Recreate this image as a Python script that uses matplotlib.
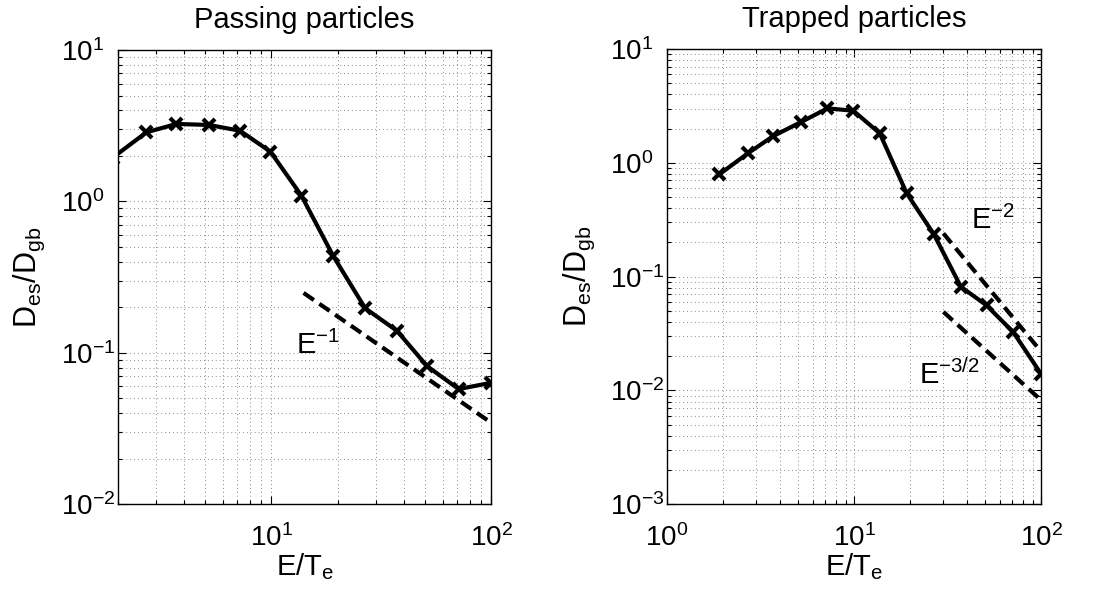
import matplotlib
matplotlib.use("Agg")
import matplotlib.pyplot as plt
from matplotlib.ticker import LogLocator, NullFormatter

plt.rcParams['font.family'] = ['Liberation Sans', 'DejaVu Sans']
plt.rcParams['mathtext.fontset'] = 'custom'
plt.rcParams['mathtext.rm'] = 'Liberation Sans'
plt.rcParams['mathtext.it'] = 'Liberation Sans'
plt.rcParams['mathtext.default'] = 'regular'

# ---- data ----
energy = [1.9, 2.7, 3.7, 5.2, 7.2, 9.9, 13.7, 19.1, 26.7, 37.2, 51, 71, 100]
passing = [1.95, 2.86, 3.25, 3.20, 2.93, 2.13, 1.09, 0.436, 0.197, 0.140, 0.0818, 0.0577, 0.0635]
trapped = [0.79, 1.21, 1.72, 2.28, 3.01, 2.87, 1.82, 0.54, 0.235, 0.0815, 0.056, 0.0324, 0.0139]

ref_pass_x = [14, 100]
ref_pass_y = [0.249, 0.0345]
ref_trap2_x = [30, 100]
ref_trap2_y = [0.24, 0.0219]
ref_trap15_x = [30, 100]
ref_trap15_y = [0.049, 0.0082]

fig = plt.figure(figsize=(11.2, 5.92), dpi=100)
ax1 = fig.add_axes([0.1051, 0.1481, 0.3336, 0.7674])
ax2 = fig.add_axes([0.5955, 0.1481, 0.3342, 0.7691])

def style(ax, xlim, ylim):
    ax.set_xscale('log')
    ax.set_yscale('log')
    ax.set_xlim(*xlim)
    ax.set_ylim(*ylim)
    ax.xaxis.set_minor_locator(LogLocator(base=10, subs=range(2, 10), numticks=20))
    ax.yaxis.set_minor_locator(LogLocator(base=10, subs=range(2, 10), numticks=20))
    ax.xaxis.set_minor_formatter(NullFormatter())
    ax.yaxis.set_minor_formatter(NullFormatter())
    ax.grid(True, which='both', linestyle=(0, (1, 3)), color='#888888', linewidth=0.7)
    ax.tick_params(which='both', direction='in', top=True, right=True, labelsize=20, width=0.8)
    ax.tick_params(which='major', length=6)
    ax.tick_params(which='minor', length=3)
    ax.tick_params(axis='x', pad=14)
    ax.tick_params(axis='y', pad=41)
    for lab in ax.get_yticklabels():
        lab.set_horizontalalignment('left')
    for s in ax.spines.values():
        s.set_linewidth(1.0)
    ax.set_xlabel('E/T$_e$', fontsize=21, labelpad=0)
    ax.set_ylabel('D$_{es}$/D$_{gb}$', fontsize=22)

style(ax1, (2, 100), (1e-2, 10))
style(ax2, (1, 100), (1e-3, 10))

ax1.plot(energy, passing, color='black', lw=3, marker='x', ms=8, mew=3)
ax1.plot(ref_pass_x, ref_pass_y, color='black', lw=3, ls=(0, (3, 1.6)))
ax1.text(13.0, 0.099, 'E$^{-1}$', fontsize=21, va='baseline', ha='left')
ax1.set_title('Passing particles', fontsize=21, pad=16)

ax2.plot(energy, trapped, color='black', lw=3, marker='x', ms=8, mew=3)
ax2.plot(ref_trap2_x, ref_trap2_y, color='black', lw=3, ls=(0, (3, 1.6)))
ax2.plot(ref_trap15_x, ref_trap15_y, color='black', lw=3, ls=(0, (3, 1.6)))
ax2.text(42.1, 0.26, 'E$^{-2}$', fontsize=21, va='baseline', ha='left')
ax2.text(22.3, 0.0113, 'E$^{-3/2}$', fontsize=21, va='baseline', ha='left')
ax2.set_title('Trapped particles', fontsize=21, pad=16)

ax1.yaxis.set_label_coords(-0.189, 0.5)
ax2.yaxis.set_label_coords(-0.187, 0.5)

fig.savefig('out.png', dpi=100)
